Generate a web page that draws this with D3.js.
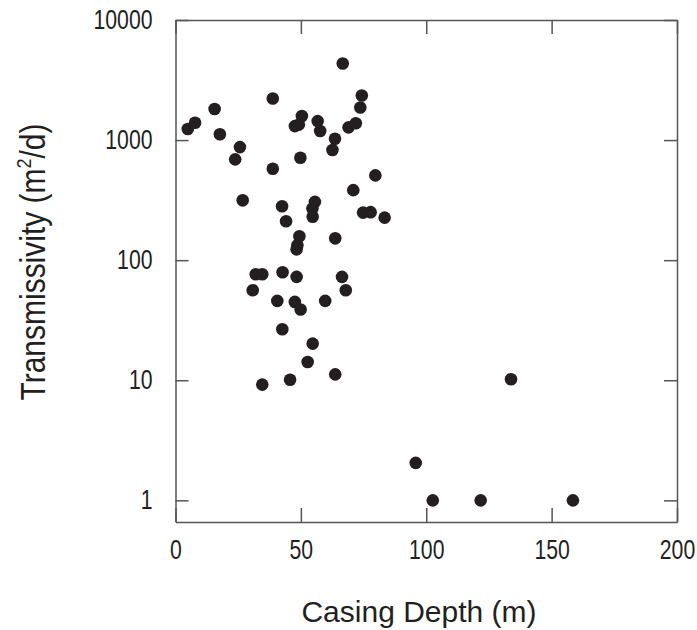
<!DOCTYPE html>
<html>
<head>
<meta charset="utf-8">
<script src="https://cdn.jsdelivr.net/npm/d3@7"></script>
<style>
  body { margin: 0; background: #fff; }
  text { font-family: "Liberation Sans Narrow", "Arial Narrow", "Liberation Sans", sans-serif; fill: #231f20; }
</style>
</head>
<body>
<div id="chart"></div>
<script>
// casing depth (m) and transmissivity (m2/d)
const depth = [4.9, 7.8, 15.6, 17.7, 25.7, 23.8, 38.8, 38.8, 26.8, 42.5, 44.1,
  66.7, 74.3, 73.7, 50.4, 47.6, 49.2, 56.7, 57.7, 69.0, 71.9, 63.6, 62.6, 49.8,
  79.7, 70.9, 55.6, 54.6, 54.7, 74.8, 77.8, 83.4, 49.4, 48.6, 48.3, 63.7,
  32.0, 34.6, 42.7, 30.8, 48.3, 66.4, 67.9, 40.6, 47.6, 49.9, 59.7, 42.6,
  54.7, 52.7, 45.7, 63.7, 34.6, 133.8, 95.8, 102.6, 121.7, 158.5];
const trans = [1235, 1393, 1813, 1117, 874, 691, 2218, 577, 315, 281, 211,
  4340, 2349, 1866, 1585, 1308, 1346, 1439, 1189, 1277, 1380, 1025, 826, 712,
  508, 383, 306, 270, 230, 249, 251, 226, 158, 133, 123, 152,
  76.4, 76.4, 79.4, 56.2, 72.6, 72.6, 56.2, 45.8, 44.9, 38.8, 45.8, 26.6,
  20.2, 14.2, 10.1, 11.2, 9.2, 10.2, 2.05, 1.0, 1.0, 1.0];
const xTicks = [0, 50, 100, 150, 200];
const yTicks = [1, 10, 100, 1000, 10000];

const width = 697;
const height = 630;
const margin = {top: 20, right: 20, bottom: 108, left: 175.5};

const svg = d3.select('#chart')
  .append('svg')
  .attr('width', width)
  .attr('height', height);

const x = d3.scaleLinear()
  .domain([0, 200])
  .range([margin.left, width - margin.right]);

const y = d3.scaleLog()
  .domain([0.66, 10000])
  .range([height - margin.bottom, margin.top]);

const points = depth.map((d, i) => ({depth: d, trans: trans[i]}));

function frameStyle(g) {
  g.selectAll('path, line').attr('stroke', '#555').attr('stroke-width', 1.5);
}

// condensed look: squeeze the digits since no narrow font is installed
function tickText(g) {
  g.selectAll('text')
    .attr('font-size', 27)
    .attr('fill', '#231f20')
    .attr('textLength', function() { return this.textContent.length * 11.8; })
    .attr('lengthAdjust', 'spacingAndGlyphs');
}

// bottom axis with labels
svg.append('g')
  .attr('transform', `translate(0, ${height - margin.bottom})`)
  .call(d3.axisBottom(x).tickValues(xTicks).tickSize(-14).tickSizeOuter(0).tickPadding(18))
  .call(frameStyle)
  .call(tickText);

// top axis, ticks only
svg.append('g')
  .attr('transform', `translate(0, ${margin.top})`)
  .call(d3.axisTop(x).tickValues(xTicks).tickSize(-14).tickSizeOuter(0).tickFormat(''))
  .call(frameStyle);

// left axis with labels
svg.append('g')
  .attr('transform', `translate(${margin.left}, 0)`)
  .call(d3.axisLeft(y).tickValues(yTicks).tickSize(-13).tickSizeOuter(0).tickPadding(23).tickFormat(d3.format('d')))
  .call(frameStyle)
  .call(tickText);

// right axis, ticks only
svg.append('g')
  .attr('transform', `translate(${width - margin.right}, 0)`)
  .call(d3.axisRight(y).tickValues(yTicks).tickSize(-13).tickSizeOuter(0).tickFormat(''))
  .call(frameStyle);

// dots
svg.append('g')
  .attr('fill', '#231f20')
  .selectAll('circle')
  .data(points)
  .join('circle')
    .attr('cx', d => x(d.depth))
    .attr('cy', d => y(d.trans))
    .attr('r', 6.3);

// axis titles
svg.append('text')
  .attr('x', 419)
  .attr('y', 622)
  .attr('text-anchor', 'middle')
  .attr('font-size', 30)
  .text('Casing Depth (m)');

const yTitle = svg.append('text')
  .attr('text-anchor', 'middle')
  .attr('font-size', 35);
yTitle.append('tspan').text('Transmissivity (m');
yTitle.append('tspan').attr('font-size', 21).attr('dy', -14).text('2');
yTitle.append('tspan').attr('dy', 14).text('/d)');
const sx = 277 / yTitle.node().getBBox().width;
yTitle.attr('transform', `translate(45, 262) rotate(-90) scale(${sx}, 1)`);
</script>
</body>
</html>
